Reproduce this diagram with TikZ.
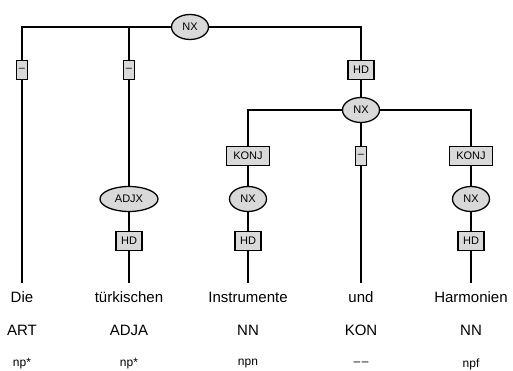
\documentclass[tikz,border=0pt]{standalone}
\usepackage{fontspec}
\setmainfont{Liberation Sans}
\usetikzlibrary{
  positioning,
  shapes.geometric
}
\tikzset{
  catnode/.style={ellipse, draw, fill=black!15, line width=1.3pt,
    inner sep=0pt, minimum width=37pt, minimum height=25pt,
    font=\fontsize{11}{13}\selectfont},
  funcbox/.style={rectangle, draw, fill=black!15, line width=1.3pt,
    inner xsep=5pt, inner ysep=0pt, minimum height=19pt,
    font=\fontsize{11}{13}\selectfont},
  dashbox/.style={funcbox, inner xsep=2.5pt},
  word/.style={inner sep=0pt, minimum height=28pt,
    font=\fontsize{15}{18}\selectfont},
  postag/.style={inner sep=0pt, font=\fontsize{15}{18}\selectfont},
  morph/.style={inner sep=0pt, font=\fontsize{12}{14}\selectfont},
  tree/.style={line width=1.3pt},
}

\begin{document}
\begin{tikzpicture}[x=1pt, y=-1pt]
  \useasboundingbox (0,0) rectangle (513,371);

  % Top NX and its daughters
  \node[catnode] (nx0) at (190,27) {NX};
  \node[dashbox] (d1) at (22,70) {--};
  \node[dashbox] (d2) at (129,70) {--};
  \node[funcbox] (hd0) at (361,70) {HD};

  % Coordinated NX
  \node[catnode] (nx1) at (361,110) {NX};
  \node[funcbox, minimum width=43pt] (konj1) at (248,156) {KONJ};
  \node[dashbox] (d3) at (361,156) {--};
  \node[funcbox, minimum width=43pt] (konj2) at (471,156) {KONJ};

  % Lower phrases
  \node[catnode, minimum width=58pt] (adjx) at (129,199) {ADJX};
  \node[catnode] (nx2) at (248,199) {NX};
  \node[catnode] (nx3) at (471,199) {NX};
  \node[funcbox] (hd1) at (129,241) {HD};
  \node[funcbox] (hd2) at (248,241) {HD};
  \node[funcbox] (hd3) at (471,241) {HD};

  % Tokens
  \node[word] (w1) at (22,297) {Die};
  \node[word] (w2) at (129,297) {türkischen};
  \node[word] (w3) at (248,297) {Instrumente};
  \node[word] (w4) at (361,297) {und};
  \node[word] (w5) at (471,297) {Harmonien};

  % POS tags
  \node[postag] (t1) at (22,330) {ART};
  \node[postag] (t2) at (129,330) {ADJA};
  \node[postag] (t3) at (248,330) {NN};
  \node[postag] (t4) at (361,330) {KON};
  \node[postag] (t5) at (471,330) {NN};

  % Morphology
  \node[morph] (m1) at (22,364) {np*};
  \node[morph] (m2) at (129,364) {np*};
  \node[morph] (m3) at (248,364) {npn};
  \node[morph] (m4) at (361,364) {\textendash\kern1.5pt\textendash};
  \node[morph] (m5) at (471,364) {npf};

  % Edges
  \draw[tree] (nx0) -| (d1);
  \draw[tree] (nx0) -| (d2);
  \draw[tree] (nx0) -| (hd0);
  \draw[tree] (hd0) -- (nx1);
  \draw[tree] (nx1) -| (konj1);
  \draw[tree] (nx1) -- (d3);
  \draw[tree] (nx1) -| (konj2);
  \draw[tree] (d1) -- (w1);
  \draw[tree] (d2) -- (adjx);
  \draw[tree] (adjx) -- (hd1);
  \draw[tree] (hd1) -- (w2);
  \draw[tree] (konj1) -- (nx2);
  \draw[tree] (nx2) -- (hd2);
  \draw[tree] (hd2) -- (w3);
  \draw[tree] (d3) -- (w4);
  \draw[tree] (konj2) -- (nx3);
  \draw[tree] (nx3) -- (hd3);
  \draw[tree] (hd3) -- (w5);
\end{tikzpicture}
\end{document}
